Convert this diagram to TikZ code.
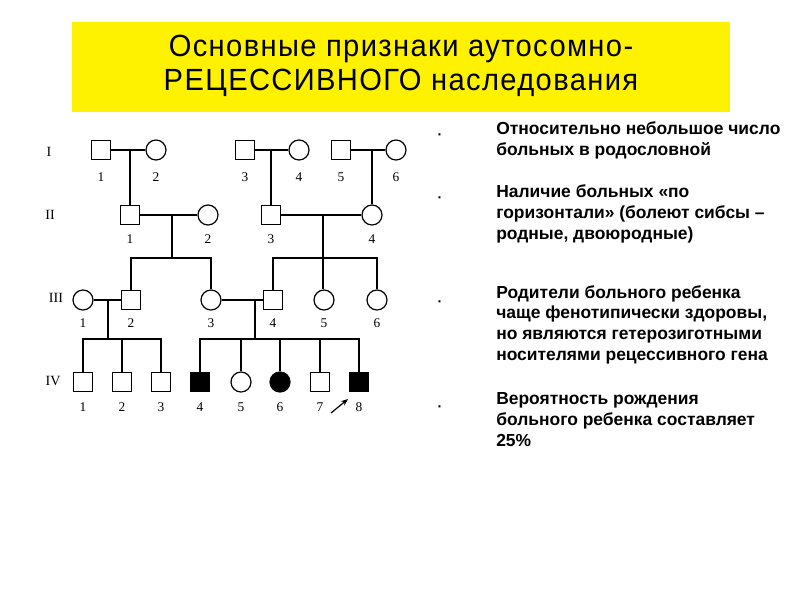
\documentclass[tikz,border=0pt]{standalone}
\usepackage{fontspec}
\setmainfont{Liberation Serif}
\newfontfamily\titlefont[FakeStretch=0.95,LetterSpace=4.5]{Liberation Sans}
\newfontfamily\bodyfont{Liberation Sans}
\usetikzlibrary{arrows.meta}
\tikzset{
  lw/.style={line width=0.85pt},
  male/.style={draw, lw, rectangle, minimum size=0.475cm, inner sep=0pt, fill=white},
  female/.style={draw, lw, circle, minimum size=0.5cm, inner sep=0pt, fill=white},
  ill/.style={fill=black},
  num/.style={font=\fontsize{9.5}{10}\selectfont, inner sep=0pt},
  gen/.style={font=\fontsize{10}{11}\selectfont, inner sep=0pt},
  conn/.style={draw, lw},
  block/.style={font=\bodyfont\bfseries\fontsize{12.4}{14.6}\selectfont, align=left, anchor=base west, inner sep=0pt},
  bullet/.style={font=\bodyfont\bfseries\fontsize{10}{10}\selectfont, inner sep=0pt, anchor=base}
}
\begin{document}
\begin{tikzpicture}[x=0.025cm,y=-0.025cm]
\useasboundingbox (0,0) rectangle (800,600);
\fill[white] (0,0) rectangle (800,600);
% title
\node[fill=yellow, minimum width=16.45cm, minimum height=2.25cm, inner sep=0pt] (titlebox) at (401,67) {};
\node[font=\titlefont\fontsize{21.8}{23.5}\selectfont, align=center, anchor=base, inner sep=0pt] (title) at (401,90)
  {Основные признаки аутосомно-\\РЕЦЕССИВНОГО наследования};

% generation labels
\node[gen] (gI) at (49,152) {I};
\node[gen] (gII) at (50,215) {II};
\node[gen] (gIII) at (56,298) {III};
\node[gen] (gIV) at (53,381) {IV};

% generation I
\node[male] (i1) at (101,150) {};
\node[female] (i2) at (156,150) {};
\node[male] (i3) at (245,150) {};
\node[female] (i4) at (299,150) {};
\node[male] (i5) at (341,150) {};
\node[female] (i6) at (396,150) {};
% generation II
\node[male] (ii1) at (130,215) {};
\node[female] (ii2) at (208,215) {};
\node[male] (ii3) at (271,215) {};
\node[female] (ii4) at (372,215) {};
% generation III
\node[female] (iii1) at (83,300) {};
\node[male] (iii2) at (131,300) {};
\node[female] (iii3) at (211,300) {};
\node[male] (iii4) at (273,300) {};
\node[female] (iii5) at (324,300) {};
\node[female] (iii6) at (377,300) {};
% generation IV
\node[male] (iv1) at (83,382) {};
\node[male] (iv2) at (122,382) {};
\node[male] (iv3) at (161,382) {};
\node[male,ill] (iv4) at (200,382) {};
\node[female] (iv5) at (241,382) {};
\node[female,ill] (iv6) at (280,382) {};
\node[male] (iv7) at (320,382) {};
\node[male,ill] (iv8) at (359,382) {};

% numbers
\foreach \n/\t in {i1/1,i2/2,i3/3,i4/4,i5/5,i6/6}{\node[num] at ([yshift=-27*0.025cm]\n.center) {\t};}
\foreach \n/\t in {ii1/1,ii2/2,ii3/3,ii4/4}{\node[num] at ([yshift=-24*0.025cm]\n.center) {\t};}
\foreach \n/\t in {iii1/1,iii2/2,iii3/3,iii4/4,iii5/5,iii6/6}{\node[num] at ([yshift=-23*0.025cm]\n.center) {\t};}
\foreach \n/\t in {iv1/1,iv2/2,iv3/3,iv4/4,iv5/5,iv6/6,iv7/7,iv8/8}{\node[num] at ([yshift=-25*0.025cm]\n.center) {\t};}

% generation I marriages
\draw[conn] (i1) -- (i2);
\draw[conn] (i3) -- (i4);
\draw[conn] (i5) -- (i6);
\coordinate (m1) at (130,150);
\coordinate (m2) at (271,150);
\coordinate (m3) at (372,150);
\draw[conn] (m1) -- (ii1.north);
\draw[conn] (m2) -- (ii3.north);
\draw[conn] (m3) -- (ii4.north);

% generation II marriages
\draw[conn] (ii1) -- (ii2);
\draw[conn] (ii3) -- (ii4);
\coordinate (m4) at (172,215);
\coordinate (s4) at (172,258);
\coordinate (m5) at (323,215);
\coordinate (s5) at (323,258);
\draw[conn] (m4) -- (s4);
\draw[conn] (m5) -- (s5);
\draw[conn] (iii2.north) |- (s4) -| (iii3.north);
\draw[conn] (iii4.north) |- (s5) -| (iii6.north);
\draw[conn] (s5) -- (iii5.north -| s5);

% generation III marriages
\draw[conn] (iii1) -- (iii2);
\draw[conn] (iii3) -- (iii4);
\coordinate (m6) at (108,300);
\coordinate (s6) at (108,339);
\coordinate (m7) at (255,300);
\coordinate (s7) at (255,339);
\draw[conn] (m6) -- (s6);
\draw[conn] (m7) -- (s7);
\draw[conn] (iv1.north) |- (s6) -| (iv3.north);
\draw[conn] (iv2.north) -- (iv2.north |- s6);
\draw[conn] (iv4.north) |- (s7) -| (iv8.north);
\foreach \c in {iv5,iv6,iv7}{\draw[conn] (\c.north) -- (\c.north |- s7);}

% proband arrow
\coordinate (pa) at (331,413);
\coordinate (pb) at (348,399);
\draw[lw, -{Stealth[length=5pt,width=4pt]}] (pa) -- (pb);

% right text
\node[bullet] (b1) at (440,139) {·};
\node[bullet] (b2) at (440,202) {·};
\node[bullet] (b3) at (440,306) {·};
\node[bullet] (b4) at (440,411) {·};
\node[block] (t1) at (496,155.5) {Относительно небольшое число\\больных в родословной};
\node[block] (t2) at (496,239) {Наличие больных «по\\горизонтали» (болеют сибсы –\\родные, двоюродные)};
\node[block] (t3) at (496,360) {Родители больного ребенка\\чаще фенотипически здоровы,\\но являются гетерозиготными\\носителями рецессивного гена};
\node[block] (t4) at (496,446) {Вероятность рождения\\больного ребенка составляет\\25\%};
\end{tikzpicture}
\end{document}
